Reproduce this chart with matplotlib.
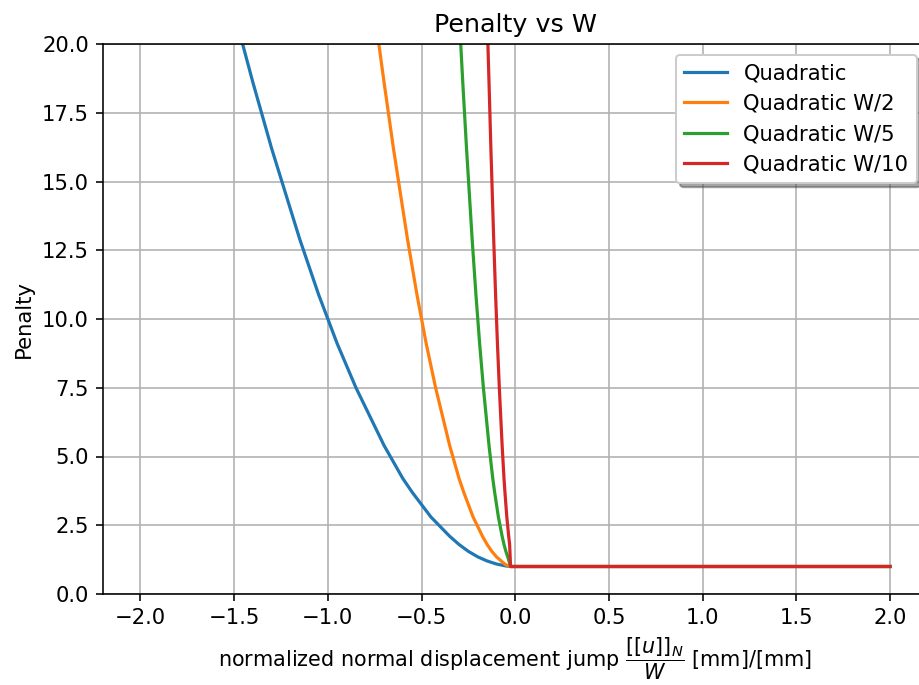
import matplotlib
matplotlib.use("Agg")
import matplotlib.pyplot as plt

# Data
x_quad = [-1.455, -1.4, -1.35, -1.3, -1.25, -1.2, -1.15, -1.1, -1.05, -1.0, -0.95, -0.9, -0.85, -0.8, -0.75,
          -0.7, -0.65, -0.6, -0.55, -0.5, -0.45, -0.4, -0.35, -0.3, -0.25, -0.2, -0.15, -0.1, -0.05, -0.025,
          0.0, 0.5, 1.0, 1.5, 2.0]
y_quad = [20.0, 18.6, 17.4, 16.2, 15.1, 14.0, 12.9, 11.9, 10.9, 10.0, 9.1, 8.3, 7.5, 6.8, 6.1,
          5.4, 4.8, 4.2, 3.7, 3.25, 2.8, 2.45, 2.1, 1.8, 1.55, 1.35, 1.2, 1.09, 1.02, 1.0,
          1.0, 1.0, 1.0, 1.0, 1.0]

x_w2 = [-0.728, -0.7, -0.675, -0.65, -0.625, -0.6, -0.575, -0.55, -0.525, -0.5, -0.475, -0.45, -0.425, -0.4,
        -0.375, -0.35, -0.325, -0.3, -0.275, -0.25, -0.225, -0.2, -0.175, -0.15, -0.125, -0.1, -0.075, -0.05,
        -0.025, 0.0, 0.5, 1.0, 1.5, 2.0]
y_w2 = [20.0, 18.6, 17.4, 16.2, 15.1, 14.0, 12.9, 11.9, 10.9, 10.0, 9.1, 8.3, 7.5, 6.8,
        6.1, 5.4, 4.8, 4.2, 3.7, 3.25, 2.8, 2.45, 2.1, 1.8, 1.55, 1.35, 1.2, 1.06,
        1.0, 1.0, 1.0, 1.0, 1.0, 1.0]

x_w5 = [-0.291, -0.28, -0.27, -0.26, -0.25, -0.24, -0.23, -0.22, -0.21, -0.2, -0.19, -0.18, -0.17, -0.16,
        -0.15, -0.14, -0.13, -0.12, -0.11, -0.1, -0.09, -0.08, -0.07, -0.06, -0.05, -0.04, -0.025,
        0.0, 0.5, 1.0, 1.5, 2.0]
y_w5 = [20.0, 18.6, 17.4, 16.2, 15.1, 14.0, 12.9, 11.9, 10.9, 10.0, 9.1, 8.3, 7.5, 6.8,
        6.1, 5.4, 4.8, 4.2, 3.7, 3.25, 2.8, 2.45, 2.1, 1.8, 1.55, 1.35, 1.0,
        1.0, 1.0, 1.0, 1.0, 1.0]

x_w10 = [-0.146, -0.14, -0.135, -0.13, -0.125, -0.12, -0.115, -0.11, -0.105, -0.1, -0.095, -0.09, -0.085, -0.08,
         -0.075, -0.07, -0.065, -0.06, -0.055, -0.05, -0.045, -0.04, -0.035, -0.03, -0.025,
         0.0, 0.5, 1.0, 1.5, 2.0]
y_w10 = [20.0, 18.6, 17.4, 16.2, 15.1, 14.0, 12.9, 11.9, 10.9, 10.0, 9.1, 8.3, 7.5, 6.8,
         6.1, 5.4, 4.8, 4.2, 3.7, 3.25, 2.8, 2.45, 2.1, 1.8, 1.0,
         1.0, 1.0, 1.0, 1.0, 1.0]

labels = ["Quadratic", "Quadratic W/2", "Quadratic W/5", "Quadratic W/10"]
colors = ["#1f77b4", "#ff7f0e", "#2ca02c", "#d62728"]

plt.rcParams["font.size"] = 10.6

dpi = 143.6
fig = plt.figure(figsize=(919 / dpi, 685 / dpi), dpi=dpi)
W, H = 919, 685
ax = fig.add_axes([103 / W, 1 - 594 / H, (927.5 - 103) / W, (594 - 44) / H])

series = [(x_quad, y_quad), (x_w2, y_w2), (x_w5, y_w5), (x_w10, y_w10)]
for (xs, ys), lab, c in zip(series, labels, colors):
    ax.plot(xs, ys, color=c, label=lab, lw=1.6)

ax.set_xlim(-2.2, 2.2)
ax.set_ylim(0, 20)
ax.set_xticks([-2.0, -1.5, -1.0, -0.5, 0.0, 0.5, 1.0, 1.5, 2.0])
ax.set_yticks([0, 2.5, 5, 7.5, 10, 12.5, 15, 17.5, 20])
ax.grid(True)
ax.set_title("Penalty vs W")
ax.set_xlabel(r"normalized normal displacement jump $\dfrac{[[u]]_N}{W}$ [mm]/[mm]", fontsize=10.4)
ax.set_ylabel("Penalty")
ax.legend(loc="upper right", shadow=True)

fig.savefig("out.png", dpi=dpi)
